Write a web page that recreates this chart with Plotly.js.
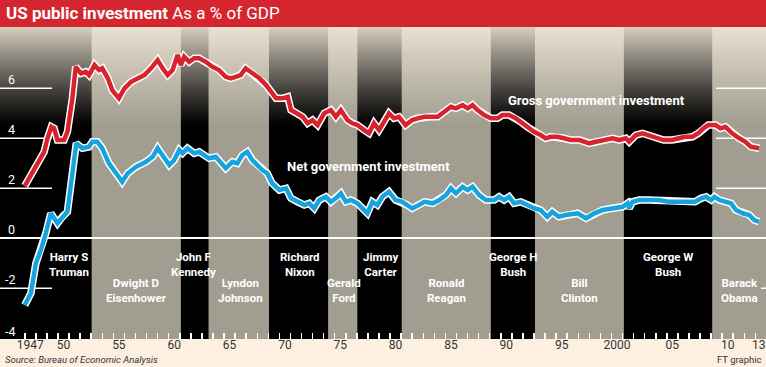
<!DOCTYPE html>
<html><head><meta charset="utf-8">
<script src="https://cdn.plot.ly/plotly-3.0.1.min.js"></script>
<style>html,body{margin:0;padding:0;background:#fdf0e1;}#chart{width:766px;height:367px;}</style>
</head><body><div id="chart"></div>
<script>
// ---- data ----
const grossX = [1947.0,1947.4,1947.85,1948.3,1948.75,1949.05,1949.4,1949.65,1949.95,1950.55,
1950.85,1951.3,1951.6,1952.07,1952.5,1952.8,1953.3,1953.7,1954.0,1954.5,
1954.9,1955.5,1956.0,1956.6,1957.2,1957.8,1958.4,1959.0,1959.45,1959.9,
1960.35,1960.8,1961.1,1961.4,1961.85,1962.3,1962.75,1963.35,1963.95,1964.55,
1965.15,1965.6,1966.05,1966.5,1966.95,1967.55,1968.2,1968.8,1969.25,1969.7,
1970.3,1970.75,1971.05,1971.5,1972.1,1972.55,1973.0,1973.45,1974.05,1974.65,
1975.1,1975.55,1976.15,1976.6,1977.05,1977.65,1978.1,1978.55,1979.0,1979.45,
1979.9,1980.35,1980.8,1981.4,1982.0,1982.5,1983.1,1983.7,1984.3,1984.9,
1985.5,1985.95,1986.55,1987.0,1987.45,1987.9,1988.5,1989.1,1989.7,1990.15,
1990.75,1991.35,1991.8,1992.4,1993.0,1993.6,1994.05,1994.5,1995.1,1995.7,
1996.3,1997.1,1998.0,1998.6,1999.5,2000.1,2000.7,2001.3,2001.6,2002.2,
2002.8,2003.35,2003.95,2004.7,2005.45,2006.1,2006.65,2007.3,2007.85,2008.3,
2008.75,2009.4,2009.85,2010.3,2010.9,2011.55,2012.1,2012.6,2013.35];
const grossY = [2.1,2.4,2.8,3.13,3.46,4.0,4.46,4.4,3.93,3.93,
4.26,5.6,6.86,6.6,6.66,6.53,6.93,6.73,6.8,6.4,
5.93,5.6,6.0,6.26,6.4,6.53,6.8,7.13,6.8,6.53,
6.73,7.33,6.93,7.26,7.06,7.2,7.2,7.06,6.86,6.73,
6.46,6.4,6.46,6.53,6.8,6.6,6.4,6.13,5.86,5.6,
5.6,5.66,5.13,5.0,4.86,4.6,4.73,4.53,5.0,5.13,
4.86,5.13,4.73,4.6,4.53,4.33,4.2,4.6,4.33,4.66,
5.0,4.8,4.86,4.53,4.73,4.8,4.86,4.86,4.86,5.06,
5.26,5.2,5.33,5.2,5.33,5.13,4.93,4.8,4.8,4.93,
4.93,4.8,4.66,4.46,4.26,4.13,4.0,4.06,4.06,4.0,
3.93,3.93,3.8,3.86,3.93,4.0,3.93,4.0,3.86,4.13,
4.2,4.13,4.06,3.93,3.93,4.0,4.06,4.06,4.2,4.4,
4.53,4.53,4.4,4.46,4.2,4.0,3.86,3.66,3.6];
const netX = [1947.0,1947.55,1948.0,1948.45,1948.9,1949.35,1949.95,1950.4,1950.85,1951.3,
1951.65,1952.2,1952.8,1953.1,1953.55,1954.0,1954.6,1955.25,1955.8,1956.3,
1957.05,1957.95,1958.55,1959.0,1959.45,1960.05,1960.5,1960.95,1961.25,1961.7,
1962.3,1962.75,1963.2,1963.65,1964.25,1964.7,1965.15,1965.75,1966.2,1966.65,
1967.1,1967.55,1968.0,1968.45,1968.9,1969.35,1970.0,1970.6,1971.05,1971.65,
1972.25,1972.7,1973.15,1973.6,1974.2,1974.65,1975.1,1975.55,1976.0,1976.45,
1977.05,1977.5,1977.95,1978.4,1978.85,1979.3,1979.9,1980.5,1981.1,1981.55,
1982.0,1982.6,1983.1,1983.85,1984.45,1985.05,1985.5,1985.95,1986.55,1987.0,
1987.45,1988.05,1988.65,1989.4,1989.85,1990.3,1990.75,1991.2,1991.8,1992.4,
1993.0,1993.6,1994.2,1994.65,1995.25,1995.85,1996.4,1996.95,1997.7,1998.45,
1999.2,2000.1,2001.0,2001.45,2001.6,2001.9,2002.5,2003.35,2004.25,2005.15,
2006.35,2007.55,2008.1,2008.55,2009.0,2009.3,2009.75,2010.35,2010.8,2011.25,
2011.85,2012.45,2012.9,2013.35];
const netY = [-2.67,-2.2,-1.0,-0.47,0.2,1.0,0.6,0.86,1.06,2.6,
3.8,3.6,3.66,3.86,3.86,3.6,3.0,2.6,2.26,2.6,
2.86,3.06,3.26,3.6,3.33,2.93,3.13,3.53,3.4,3.6,
3.4,3.46,3.33,3.2,3.26,3.06,2.8,3.06,3.0,3.33,
3.46,3.13,2.93,2.73,2.6,2.2,1.93,2.0,1.6,1.46,
1.33,1.4,1.2,1.53,1.66,1.46,1.6,1.8,1.46,1.53,
1.4,1.2,1.0,1.46,1.33,1.66,1.86,1.53,1.46,1.33,
1.2,1.33,1.46,1.4,1.53,1.73,2.0,1.8,2.06,1.93,
2.06,1.73,1.53,1.53,1.66,1.53,1.66,1.4,1.46,1.33,
1.2,1.13,0.86,1.06,0.86,0.93,0.96,1.0,0.8,1.0,
1.13,1.2,1.26,1.4,1.2,1.46,1.53,1.53,1.53,1.46,
1.46,1.46,1.6,1.66,1.53,1.66,1.53,1.46,1.4,1.13,
1.0,0.93,0.73,0.66];
const presidents = ["Harry S<br>Truman","Dwight D<br>Eisenhower","John F<br>Kennedy","Lyndon<br>Johnson","Richard<br>Nixon","Gerald<br>Ford","Jimmy<br>Carter","Ronald<br>Reagan","George H<br>Bush","Bill<br>Clinton","George W<br>Bush","Barack<br>Obama"];
const termStart = [1945.28,1953.04,1961.1,1963.6,1969.06,1974.4,1977.04,1981.05,1989.1,1993.09,2001.12,2009.1];
const tickYears = [1947,1950,1955,1960,1965,1970,1975,1980,1985,1990,1995,2000,2005,2010,2013];
const tickText = ["1947","50","55","60","65","70","75","80","85","90","95","2000","05","10","13"];
const yTicks = [-4,-2,0,2,4,6];
const seriesNames = ["Gross government investment","Net government investment"];

// ---- layout helpers ----
const X0 = 1944.76, X1 = 2013.96;
const Y0 = -4.028, Y1 = 8.452;
const FONT = 'Roboto, Arial, sans-serif';
const shapes = [];
for (let i = 0; i < termStart.length; i++) {
  if (i % 2 === 1) {
    const end = i + 1 < termStart.length ? termStart[i + 1] : X1 + 1;
    shapes.push({type:'rect', xref:'x', yref:'paper', x0:termStart[i], x1:end, y0:0, y1:1,
      fillcolor:'#a19e91', line:{width:0}, layer:'below'});
  }
}
const NS = 50, stripH = 0.08;
for (let i = 0; i < NS; i++) {
  const s = (i + 0.5) / NS;
  const a = 0.88 * Math.pow(1 - s, 1.15);
  shapes.push({type:'rect', xref:'paper', yref:'y', x0:0, x1:1,
    y0:Y1 - (i + 1) * stripH, y1:Y1 - i * stripH,
    fillcolor:'rgba(244,234,218,' + a.toFixed(3) + ')', line:{width:0}, layer:'below'});
}
[-2,2,4,6].forEach(v => shapes.push({type:'line', xref:'paper', yref:'y', x0:0, x1:52/766, y0:v, y1:v,
  line:{color:'white', width:1.5}, layer:'between'}));
[2,4,6].forEach(v => shapes.push({type:'line', xref:'paper', yref:'y', x0:716/766, x1:1, y0:v, y1:v,
  line:{color:'white', width:1.5}, layer:'between'}));
shapes.push({type:'line', xref:'paper', yref:'y', x0:761/766, x1:1, y0:-2, y1:-2,
  line:{color:'white', width:1.5}, layer:'between'});
shapes.push({type:'rect', xref:'paper', yref:'paper', x0:0, x1:1, y0:1, y1:1 + 28/312,
  fillcolor:'#d5262f', line:{width:0}, layer:'above'});

const annotations = [];
yTicks.forEach(v => annotations.push({xref:'paper', yref:'y', x:17/766, y:v, xanchor:'right', yanchor:'middle',
  yshift: v === -4 ? 7 : 8.5, text:String(v), showarrow:false,
  font:{family:FONT, size:12.5, color:'white'}}));
const presPos = [[1951.0,-1.05],[1957.05,-2.09],[1962.2,-1.05],[1966.45,-2.09],[1971.86,-1.05],[1975.84,-2.09],
  [1979.09,-1.05],[1985.14,-2.09],[1991.1,-1.05],[1997.15,-2.09],[2005.1,-1.05],[2011.6,-2.09]];
presidents.forEach((p, i) => annotations.push({xref:'x', yref:'y', x:presPos[i][0], y:presPos[i][1],
  xanchor:'center', yanchor:'middle', text:'<b>' + p + '</b>', showarrow:false,
  font:{family:FONT, size:11.5, color:'white'}}));
annotations.push({xref:'x', yref:'y', x:1990.45, y:5.53, xanchor:'left', yanchor:'middle', showarrow:false,
  text:'<b>' + seriesNames[0] + '</b>', font:{family:FONT, size:13, color:'white'}});
annotations.push({xref:'x', yref:'y', x:1970.5, y:2.89, xanchor:'left', yanchor:'middle', showarrow:false,
  text:'<b>' + seriesNames[1] + '</b>', font:{family:FONT, size:13, color:'white'}});
annotations.push({xref:'paper', yref:'paper', x:4/766, y:1 + 14/312, xanchor:'left', yanchor:'middle', showarrow:false,
  text:'<b>US public investment</b> As a % of GDP', font:{family:FONT, size:17, color:'white'}});
annotations.push({xref:'paper', yref:'paper', x:3/766, y:-20.5/312, xanchor:'left', yanchor:'middle', showarrow:false,
  text:'<i>Source: Bureau of Economic Analysis</i>', font:{family:'Liberation Sans Narrow, Roboto, Arial, sans-serif', size:9.5, color:'#333'}});
annotations.push({xref:'paper', yref:'paper', x:1 - 2/766, y:-20.5/312, xanchor:'right', yanchor:'middle', showarrow:false,
  text:'FT graphic', font:{family:FONT, size:9.5, color:'#333'}});

const traces = [
  {x:grossX, y:grossY, mode:'lines', line:{color:'white', width:7.5}, hoverinfo:'skip'},
  {x:grossX, y:grossY, mode:'lines', line:{color:'#d7232e', width:4.5}, name:seriesNames[0]},
  {x:netX, y:netY, mode:'lines', line:{color:'white', width:7.5}, hoverinfo:'skip'},
  {x:netX, y:netY, mode:'lines', line:{color:'#17a3dd', width:4.5}, name:seriesNames[1]},
  {x:[1950], y:[-100], xaxis:'x2', yaxis:'y', mode:'markers', marker:{opacity:0}, hoverinfo:'skip'}
];

const yearTicks = [];
for (let y = 1947; y <= 2013; y++) yearTicks.push(y);
const labelVals = tickYears.map((y, i) => i === tickYears.length - 1 ? y + 0.3 : y + 0.5);

const layout = {
  width:766, height:367,
  margin:{l:0, r:0, t:27, b:28},
  paper_bgcolor:'#fdf0e1', plot_bgcolor:'#000000',
  showlegend:false,
  xaxis:{range:[X0, X1], showgrid:false, zeroline:false, showline:false,
    tickmode:'array', tickvals:yearTicks, ticks:'inside', ticklen:6, tickwidth:1.5, tickcolor:'white',
    showticklabels:false},
  xaxis2:{range:[X0, X1], overlaying:'x', anchor:'y', side:'bottom', showgrid:false, zeroline:false, showline:false,
    tickmode:'array', tickvals:labelVals, ticktext:tickText, ticks:'',
    ticklabeloverflow:'allow', ticklabelstandoff:-3,
    tickfont:{family:FONT, size:12, color:'#333'}},
  yaxis:{range:[Y0, Y1], showgrid:false, showticklabels:false, ticks:'',
    zeroline:true, zerolinecolor:'white', zerolinewidth:2, showline:false},
  shapes:shapes, annotations:annotations
};
Plotly.newPlot('chart', traces, layout, {displayModeBar:false, staticPlot:true});
</script></body></html>
